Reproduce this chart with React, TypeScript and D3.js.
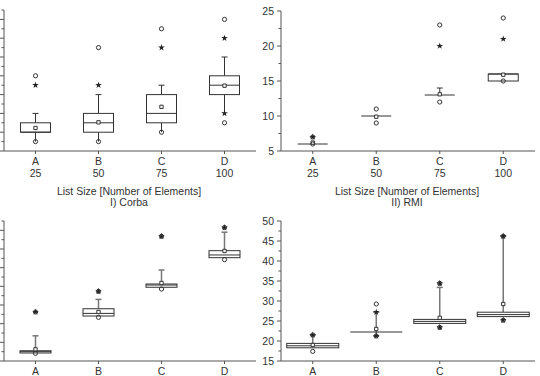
import React from 'react';
import { scaleLinear, scalePoint, symbol, symbolStar, symbolSquare, range } from 'd3';

const categories = ['A', 'B', 'C', 'D'];
const listSizes = ['25', '50', '75', '100'];

// I) Corba, top (units read from tick marks, labels are cut off)
const corbaMin = [1, 1, 2, 3];
const corbaP1 = [null, null, null, 4];
const corbaP5 = [1, 1, 2, 4];
const corbaQ1 = [2, 2, 3, 6];
const corbaMedian = [2, 3, 4, 7];
const corbaQ3 = [3, 4, 6, 8];
const corbaP95 = [4, 6, 7, 10];
const corbaP99 = [7, 7, 11, 12];
const corbaMax = [8, 11, 13, 14];
const corbaMean = [2.45, 3.05, 4.7, 6.95];

// II) RMI, top
const rmiMin = [6, 9, 12, 15];
const rmiP1 = [null, null, null, null];
const rmiP5 = [6, 10, 13, 15];
const rmiQ1 = [6, 10, 13, 15];
const rmiMedian = [6, 10, 13, 16];
const rmiQ3 = [6, 10, 13, 16];
const rmiP95 = [6, 10, 14, 16];
const rmiP99 = [7, null, 20, 21];
const rmiMax = [7, 11, 23, 24];
const rmiMean = [6.2, 9.9, 13.1, 15.9];
const rmiTicks = [5, 10, 15, 20, 25];

// bottom left (Corba, second measurement)
const corba2Min = [0.82, 4.68, 7.71, 10.86];
const corba2P1 = [null, null, null, null];
const corba2P5 = [0.86, 4.82, 7.9, 11.07];
const corba2Q1 = [0.86, 4.82, 7.9, 11.07];
const corba2Median = [1.0, 5.1, 8.14, 11.36];
const corba2Q3 = [1.1, 5.6, 8.25, 11.82];
const corba2P95 = [2.7, 6.6, 9.75, 13.8];
const corba2P99 = [5.25, 7.46, 13.36, 14.3];
const corba2Max = [5.25, 7.46, 13.36, 14.3];
const corba2Mean = [1.25, 5.25, 8.36, 11.79];

// bottom right (RMI, second measurement)
const rmi2Min = [17.4, 21.25, 23.4, 25.2];
const rmi2P1 = [null, 21.25, 23.4, 25.2];
const rmi2P5 = [18.3, 21.25, 24.4, 26.1];
const rmi2Q1 = [18.3, 22.25, 24.4, 26.1];
const rmi2Median = [18.8, 22.25, 24.9, 26.6];
const rmi2Q3 = [19.4, 22.25, 25.4, 27.2];
const rmi2P95 = [21.5, 27.2, 33.4, 46.2];
const rmi2P99 = [21.5, 27.2, 34.4, 46.2];
const rmi2Max = [21.5, 29.25, 34.4, 46.2];
const rmi2Mean = [19.0, 23.0, 25.8, 29.25];
const rmi2Ticks = [15, 20, 25, 30, 35, 40, 45, 50];

const FONT = '"Liberation Sans", Arial, sans-serif';
const TEXT = '#333';
const AXIS = '#555';

type Stats = {
  min: (number | null)[];
  p1: (number | null)[];
  p5: (number | null)[];
  q1: number[];
  median: number[];
  q3: number[];
  p95: (number | null)[];
  p99: (number | null)[];
  max: (number | null)[];
  mean: number[];
};

type PanelProps = {
  xRange: [number, number];
  yRange: [number, number];
  domain: [number, number];
  majorTicks: number[];
  minorTicks: number[];
  labels: boolean;
  boxWidth: number;
  whisker: string;
  whiskerWidth: number;
  lowCaps: boolean;
  stats: Stats;
  tickRows: string[][];
  title: string[];
};

const starPath = symbol(symbolStar, 14)() as string;
const squarePath = symbol(symbolSquare, 11)() as string;

const Panel = (p: PanelProps) => {
  const x = scalePoint<string>().domain(categories).range(p.xRange).padding(0.5);
  const y = scaleLinear().domain(p.domain).range(p.yRange);
  const [x0, x1] = p.xRange;
  const [yb, yt] = p.yRange;
  const s = p.stats;
  const mid = (x0 + x1) / 2;

  return (
    <g fontFamily={FONT}>
      {/* y axis */}
      <line x1={x0} x2={x0} y1={yt} y2={yb} stroke={AXIS} />
      {p.minorTicks.map(t => (
        <line key={'mi' + t} x1={x0 - 2.5} x2={x0} y1={y(t)} y2={y(t)} stroke={AXIS} />
      ))}
      {p.majorTicks.map(t => (
        <g key={'ma' + t}>
          <line x1={x0 - 4} x2={x0} y1={y(t)} y2={y(t)} stroke={AXIS} />
          {p.labels && (
            <text x={x0 - 7} y={y(t) + 3.6} textAnchor="end" fontSize={10.5} fill={TEXT}>
              {t}
            </text>
          )}
        </g>
      ))}
      {/* x axis */}
      <line x1={x0} x2={x1} y1={yb} y2={yb} stroke={AXIS} />
      {categories.map(c => (
        <line key={'xt' + c} x1={x(c)} x2={x(c)} y1={yb} y2={yb + 3} stroke={AXIS} />
      ))}
      {p.tickRows.map((row, ri) =>
        row.map((t, i) => (
          <text
            key={'tl' + ri + i}
            x={x(categories[i])}
            y={yb + 14 + ri * 12.3}
            textAnchor="middle"
            fontSize={10.5}
            fill={TEXT}
          >
            {t}
          </text>
        ))
      )}
      {p.title.map((t, i) => (
        <text key={'ti' + i} x={mid - 1} y={yb + 43.5 + i * 11.2} textAnchor="middle" fontSize={10.5} fill={TEXT}>
          {t}
        </text>
      ))}

      {/* boxes */}
      {categories.map((c, i) => {
        const cx = x(c) as number;
        const w = p.boxWidth;
        const cap = 3;
        const hi = s.p95[i];
        const lo = s.p5[i];
        return (
          <g key={'bx' + c}>
            {hi != null && hi > s.q3[i] && (
              <g stroke={p.whisker} strokeWidth={p.whiskerWidth}>
                <line x1={cx} x2={cx} y1={y(s.q3[i])} y2={y(hi)} />
                <line x1={cx - cap} x2={cx + cap} y1={y(hi)} y2={y(hi)} />
              </g>
            )}
            {lo != null && lo < s.q1[i] && (
              <g stroke={p.whisker} strokeWidth={p.whiskerWidth}>
                <line x1={cx} x2={cx} y1={y(s.q1[i])} y2={y(lo)} />
                {p.lowCaps && <line x1={cx - cap} x2={cx + cap} y1={y(lo)} y2={y(lo)} />}
              </g>
            )}
            <rect
              x={cx - w / 2}
              y={y(s.q3[i])}
              width={w}
              height={Math.max(0, y(s.q1[i]) - y(s.q3[i]))}
              fill="#fff"
              stroke="#333"
            />
            <line x1={cx - w / 2} x2={cx + w / 2} y1={y(s.median[i])} y2={y(s.median[i])} stroke="#333" />
            <path d={squarePath} transform={`translate(${cx},${y(s.mean[i])})`} fill="#fff" stroke="#333" />
            {[s.p1[i], s.p99[i]].map((v, k) =>
              v != null ? (
                <path key={'st' + k} d={starPath} transform={`translate(${cx},${y(v)})`} fill="#222" />
              ) : null
            )}
            {[s.min[i], s.max[i]].map((v, k) =>
              v != null ? (
                <circle key={'ci' + k} cx={cx} cy={y(v)} r={2.1} fill="none" stroke="#333" />
              ) : null
            )}
          </g>
        );
      })}
    </g>
  );
};

export default function App() {
  const corba: Stats = {
    min: corbaMin, p1: corbaP1, p5: corbaP5, q1: corbaQ1, median: corbaMedian,
    q3: corbaQ3, p95: corbaP95, p99: corbaP99, max: corbaMax, mean: corbaMean,
  };
  const rmi: Stats = {
    min: rmiMin, p1: rmiP1, p5: rmiP5, q1: rmiQ1, median: rmiMedian,
    q3: rmiQ3, p95: rmiP95, p99: rmiP99, max: rmiMax, mean: rmiMean,
  };
  const corba2: Stats = {
    min: corba2Min, p1: corba2P1, p5: corba2P5, q1: corba2Q1, median: corba2Median,
    q3: corba2Q3, p95: corba2P95, p99: corba2P99, max: corba2Max, mean: corba2Mean,
  };
  const rmi2: Stats = {
    min: rmi2Min, p1: rmi2P1, p5: rmi2P5, q1: rmi2Q1, median: rmi2Median,
    q3: rmi2Q3, p95: rmi2P95, p99: rmi2P99, max: rmi2Max, mean: rmi2Mean,
  };
  const xTitle = 'List Size [Number of Elements]';

  return (
    <svg width={540} height={376} style={{ position: 'absolute', left: 0, top: 0, background: '#fff' }}>
      <Panel
        xRange={[4, 256]} yRange={[151, 10]} domain={[0, 15]}
        majorTicks={range(0, 16, 2)} minorTicks={range(1, 16, 2)} labels={false}
        boxWidth={30} whisker="#333" whiskerWidth={1} lowCaps={false} stats={corba}
        tickRows={[categories, listSizes]} title={[xTitle, 'I) Corba']}
      />
      <Panel
        xRange={[281, 535]} yRange={[151, 11]} domain={[5, 25]}
        majorTicks={rmiTicks} minorTicks={range(7.5, 25, 5)} labels={true}
        boxWidth={30} whisker="#333" whiskerWidth={1} lowCaps={false} stats={rmi}
        tickRows={[categories, listSizes]} title={[xTitle, 'II) RMI']}
      />
      <Panel
        xRange={[4, 256]} yRange={[361, 221]} domain={[0, 15]}
        majorTicks={range(0, 16, 2)} minorTicks={range(1, 16, 2)} labels={false}
        boxWidth={31} whisker="#777" whiskerWidth={1.5} lowCaps={true} stats={corba2}
        tickRows={[categories]} title={[]}
      />
      <Panel
        xRange={[281, 535]} yRange={[361, 221]} domain={[15, 50]}
        majorTicks={rmi2Ticks} minorTicks={range(17.5, 50, 5)} labels={true}
        boxWidth={52} whisker="#777" whiskerWidth={1.5} lowCaps={true} stats={rmi2}
        tickRows={[categories]} title={[]}
      />
    </svg>
  );
}
